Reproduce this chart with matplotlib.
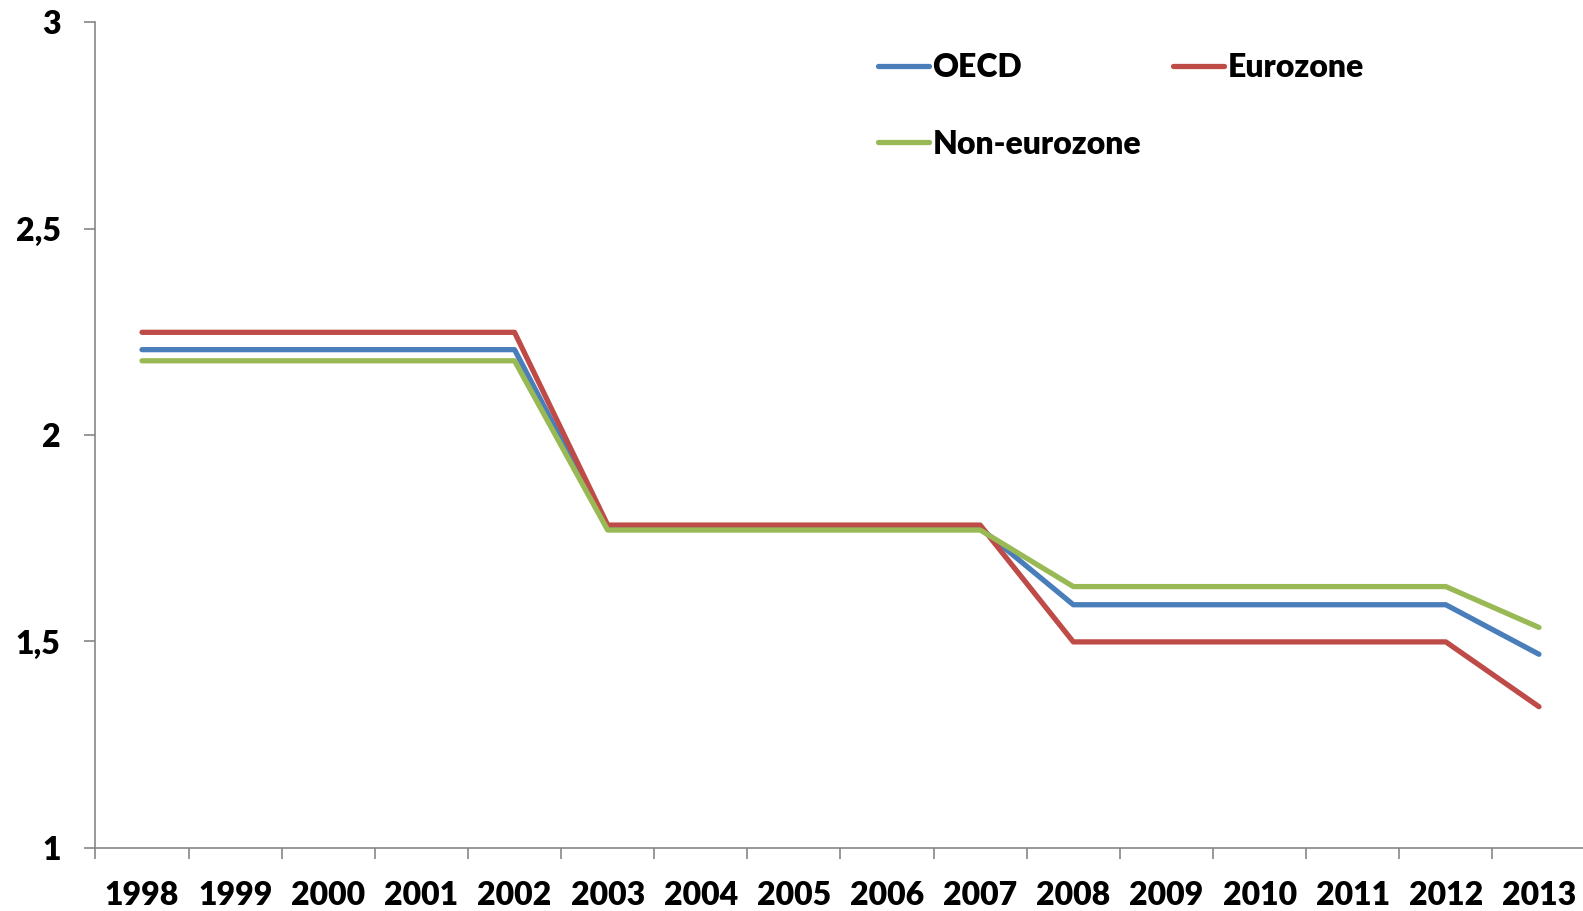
import numpy as np
import matplotlib.pyplot as plt
from matplotlib.ticker import FixedLocator, FuncFormatter

plt.rcParams['font.family'] = ['Lato', 'DejaVu Sans']
plt.rcParams['font.weight'] = 'heavy'

years = [str(y) for y in range(1998, 2014)]
oecd = [2.207] * 5 + [1.775] * 5 + [1.589] * 5 + [1.469]
eurozone = [2.249] * 5 + [1.782] * 5 + [1.499] * 5 + [1.342]
non_eurozone = [2.180] * 5 + [1.770] * 5 + [1.633] * 5 + [1.534]

fig = plt.figure(figsize=(15.83, 9.11), dpi=100)
ax = fig.add_axes([0.0603, 0.0693, 0.9413, 0.9062])

x = np.arange(len(years))
lw = 3.8
h_oecd, = ax.plot(x, oecd, color='#4A7EBB', lw=lw, label='OECD', solid_capstyle='round', zorder=3)
h_euro, = ax.plot(x, eurozone, color='#BE4B48', lw=lw, label='Eurozone', solid_capstyle='round', zorder=3)
h_non, = ax.plot(x, non_eurozone, color='#98B954', lw=lw, label='Non-eurozone', solid_capstyle='round', zorder=4)

ax.set_xlim(-0.5, len(years) - 0.5)
ax.set_ylim(1, 3)

# category labels centred, tick marks on the boundaries
ax.set_xticks(x)
ax.set_xticklabels(years)
ax.xaxis.set_minor_locator(FixedLocator(np.arange(-0.5, len(years), 1.0)))
ax.tick_params(axis='x', which='major', length=0, pad=24, labelsize=23)
ax.tick_params(axis='x', which='minor', length=8, width=1.2, color='#868686')

ax.set_yticks([1, 1.5, 2, 2.5, 3])
ax.yaxis.set_major_formatter(FuncFormatter(lambda v, p: f'{v:g}'.replace('.', ',')))
ax.tick_params(axis='y', length=8, width=1.2, color='#868686', pad=17, labelsize=23)

for s in ['top', 'right']:
    ax.spines[s].set_visible(False)
for s in ['left', 'bottom']:
    ax.spines[s].set_color('#868686')
    ax.spines[s].set_linewidth(1.2)

# column-major fill: OECD / Non-eurozone in first column, Eurozone in second
leg = ax.legend([h_oecd, h_non, h_euro], ['OECD', 'Non-eurozone', 'Eurozone'],
                loc='upper left', bbox_to_anchor=(0.506, 0.998), ncol=2, frameon=False,
                fontsize=23, handlelength=1.6, handletextpad=0.1, columnspacing=1.0,
                labelspacing=1.5)
for line in leg.get_lines():
    line.set_solid_capstyle('round')

fig.savefig('out.png', dpi=100)
